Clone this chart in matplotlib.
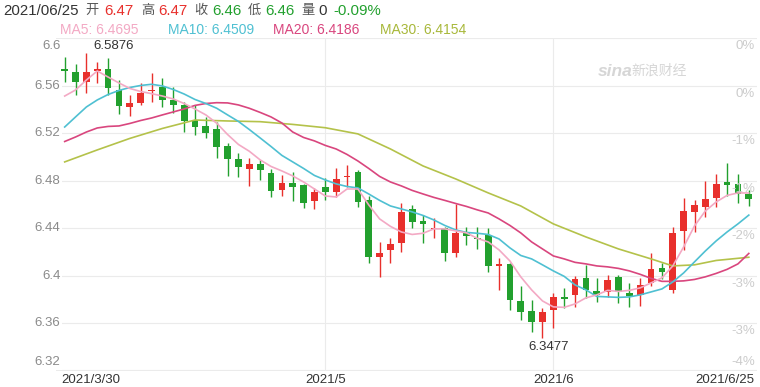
import matplotlib
matplotlib.use('Agg')
import matplotlib.pyplot as plt
import matplotlib.transforms as mtransforms

plt.rcParams['font.family'] = ['Liberation Sans', 'Noto Sans CJK SC', 'DejaVu Sans']

# daily candles 2021/3/30 .. 2021/6/25
opens = [6.5740, 6.5717, 6.5633, 6.5720, 6.5737, 6.5563, 6.5422, 6.5451, 6.5560, 6.5591,
         6.5479, 6.5437, 6.5310, 6.5260, 6.5232, 6.5091, 6.4980, 6.4898, 6.4937, 6.4862,
         6.4721, 6.4782, 6.4763, 6.4631, 6.4744, 6.4707, 6.4835, 6.4875, 6.4637, 6.4154,
         6.4216, 6.4272, 6.4558, 6.4462, 6.4395, 6.4399, 6.4188, 6.4370, 6.4318, 6.4342,
         6.4090, 6.4098, 6.3789, 6.3705, 6.3612, 6.3711, 6.3818, 6.3837, 6.3983, 6.3873,
         6.3865, 6.3991, 6.3856, 6.3837, 6.3935, 6.4062, 6.3879, 6.4378, 6.4538, 6.4575,
         6.4651, 6.4788, 6.4769, 6.4685]
highs = [6.5840, 6.5782, 6.5876, 6.5800, 6.5830, 6.5647, 6.5521, 6.5624, 6.5704, 6.5662,
         6.5591, 6.5465, 6.5437, 6.5338, 6.5296, 6.5114, 6.5030, 6.4988, 6.4974, 6.4895,
         6.4847, 6.4875, 6.4772, 6.4735, 6.4820, 6.4904, 6.4932, 6.4885, 6.4670, 6.4286,
         6.4314, 6.4609, 6.4595, 6.4510, 6.4483, 6.4412, 6.4603, 6.4412, 6.4412, 6.4399,
         6.4146, 6.4105, 6.3913, 6.3795, 6.3725, 6.3851, 6.3893, 6.3997, 6.4089, 6.3978,
         6.4005, 6.4005, 6.3940, 6.3978, 6.4188, 6.4104, 6.4412, 6.4651, 6.4637, 6.4800,
         6.4856, 6.4946, 6.4856, 6.4719]
lows = [6.5630, 6.5521, 6.5535, 6.5624, 6.5520, 6.5361, 6.5344, 6.5437, 6.5465, 6.5422,
        6.5367, 6.5212, 6.5184, 6.5156, 6.4988, 6.4839, 6.4833, 6.4755, 6.4805, 6.4660,
        6.4670, 6.4631, 6.4567, 6.4561, 6.4637, 6.4660, 6.4749, 6.4580, 6.4109, 6.3986,
        6.4104, 6.4201, 6.4399, 6.4272, 6.4314, 6.4126, 6.4159, 6.4258, 6.4222, 6.4033,
        6.3879, 6.3711, 6.3626, 6.3528, 6.3477, 6.3557, 6.3725, 6.3733, 6.3809, 6.3781,
        6.3823, 6.3767, 6.3738, 6.3744, 6.3913, 6.3969, 6.3851, 6.4216, 6.4370, 6.4496,
        6.4580, 6.4670, 6.4614, 6.4586]
closes = [6.5720, 6.5633, 6.5717, 6.5740, 6.5582, 6.5431, 6.5456, 6.5535, 6.5570, 6.5479,
          6.5437, 6.5302, 6.5254, 6.5203, 6.5080, 6.4982, 6.4912, 6.4937, 6.4889, 6.4713,
          6.4777, 6.4749, 6.4614, 6.4707, 6.4707, 6.4814, 6.4843, 6.4622, 6.4154, 6.4193,
          6.4264, 6.4538, 6.4454, 6.4435, 6.4403, 6.4193, 6.4356, 6.4334, 6.4310, 6.4081,
          6.4098, 6.3795, 6.3696, 6.3612, 6.3696, 6.3818, 6.3812, 6.3969, 6.3879, 6.3837,
          6.3963, 6.3865, 6.3829, 6.3921, 6.4053, 6.4033, 6.4361, 6.4547, 6.4595, 6.4643,
          6.4772, 6.4765, 6.4685, 6.4643]

ma5 = [6.5512, 6.5563, 6.5647, 6.5723, 6.5672, 6.5622, 6.5576, 6.5550, 6.5532, 6.5512,
       6.5487, 6.5449, 6.5403, 6.5353, 6.5283, 6.5188, 6.5104, 6.5047, 6.4974, 6.4919,
       6.4881, 6.4839, 6.4788, 6.4729, 6.4670, 6.4662, 6.4729, 6.4729, 6.4595, 6.4477,
       6.4414, 6.4367, 6.4346, 6.4356, 6.4393, 6.4393, 6.4376, 6.4359, 6.4313, 6.4283,
       6.4216, 6.4123, 6.3989, 6.3879, 6.3786, 6.3736, 6.3732, 6.3761, 6.3812, 6.3837,
       6.3875, 6.3866, 6.3875, 6.3896, 6.3938, 6.3980, 6.4081, 6.4241, 6.4418, 6.4544,
       6.4620, 6.4675, 6.4696, 6.4695]
ma10 = [6.5251, 6.5336, 6.5420, 6.5479, 6.5525, 6.5559, 6.5584, 6.5601, 6.5611, 6.5597,
        6.5567, 6.5529, 6.5483, 6.5449, 6.5409, 6.5353, 6.5298, 6.5230, 6.5159, 6.5087,
        6.5012, 6.4957, 6.4902, 6.4843, 6.4805, 6.4772, 6.4750, 6.4738, 6.4687, 6.4633,
        6.4586, 6.4561, 6.4536, 6.4506, 6.4468, 6.4422, 6.4384, 6.4363, 6.4356, 6.4346,
        6.4308, 6.4233, 6.4169, 6.4140, 6.4090, 6.4039, 6.3993, 6.3921, 6.3879, 6.3824,
        6.3820, 6.3816, 6.3820, 6.3837, 6.3862, 6.3887, 6.3946, 6.4022, 6.4115, 6.4207,
        6.4292, 6.4367, 6.4435, 6.4509]
ma20 = [6.5129, 6.5167, 6.5209, 6.5243, 6.5256, 6.5260, 6.5281, 6.5306, 6.5327, 6.5353,
        6.5378, 6.5403, 6.5433, 6.5449, 6.5456, 6.5454, 6.5437, 6.5409, 6.5374, 6.5336,
        6.5285, 6.5209, 6.5163, 6.5134, 6.5096, 6.5066, 6.5020, 6.4965, 6.4902, 6.4835,
        6.4788, 6.4755, 6.4717, 6.4687, 6.4658, 6.4633, 6.4607, 6.4582, 6.4553, 6.4527,
        6.4477, 6.4422, 6.4359, 6.4283, 6.4224, 6.4165, 6.4140, 6.4111, 6.4098, 6.4081,
        6.4073, 6.4060, 6.4039, 6.4010, 6.3976, 6.3951, 6.3951, 6.3955, 6.3967, 6.3989,
        6.4018, 6.4052, 6.4098, 6.4186]
ma30_idx = [0, 3, 6, 9, 12, 15, 18, 21, 24, 27, 30, 33, 36, 39, 42, 45, 48, 51, 54, 56, 58, 60, 63]
ma30 = [6.4957, 6.5058, 6.5155, 6.5239, 6.5310, 6.5302, 6.5296, 6.5273, 6.5245, 6.5193,
        6.5066, 6.4923, 6.4814, 6.4696, 6.4586, 6.4435, 6.4325, 6.4224, 6.4140, 6.4081,
        6.4090, 6.4127, 6.4154]

y_ticks = [6.32, 6.36, 6.4, 6.44, 6.48, 6.52, 6.56, 6.6]
y_labels = ['6.32', '6.36', '6.4', '6.44', '6.48', '6.52', '6.56', '6.6']
pct_labels = ['-4%', '-3%', '-3%', '-2%', '-1%', '-1%', '0%', '0%']
date_idx = [0, 24, 45, 63]
date_labels = ['2021/3/30', '2021/5', '2021/6', '2021/6/25']

head_date = '2021/06/25'
head_open, head_high, head_close, head_low = 6.47, 6.47, 6.46, 6.46
head_vol = 0
head_chg = -0.09

RED = '#e8302c'
GREEN = '#22a02e'
C_MA5, C_MA10, C_MA20, C_MA30 = '#f3a9c4', '#4fc0d2', '#d9467e', '#b4c24a'

W, H = 760, 387
fig = plt.figure(figsize=(W / 100, H / 100), dpi=100)
ax = fig.add_axes([56 / W, (H - 370.5) / H, 701 / W, 332.4 / H])
ax.set_xlim(-0.80, 63.755)
ax.set_ylim(6.32, 6.6)
for s in ax.spines.values():
    s.set_visible(False)
ax.set_xticks([])
ax.set_yticks([])

for t in y_ticks:
    ax.axhline(t, color='#ebebeb', lw=0.8, zorder=0)
for i in date_idx[1:3]:
    ax.axvline(i, color='#ebebeb', lw=0.8, zorder=0)

n = len(opens)
for i in range(n):
    o, h, l, c = opens[i], highs[i], lows[i], closes[i]
    col = RED if c >= o else GREEN
    ax.vlines(i, l, h, color=col, lw=1.0, zorder=2)
    ax.bar(i, max(abs(c - o), 0.0013), bottom=min(o, c) - (0.00065 if abs(c - o) < 0.0013 else 0),
           width=0.62, color=col, zorder=3)

xs = list(range(n))
ax.plot(ma30_idx, ma30, color=C_MA30, lw=1.2, zorder=4)
ax.plot(xs, ma20, color=C_MA20, lw=1.2, zorder=4)
ax.plot(xs, ma10, color=C_MA10, lw=1.2, zorder=4)
ax.plot(xs, ma5, color=C_MA5, lw=1.2, zorder=4)

# left price labels, right edge at about x=60px
lab_x = 4.5 / 701
for t, lab in zip(y_ticks, y_labels):
    va = 'center'
    off = 0
    if t == y_ticks[-1]:
        va, off = 'top', -2
    elif t == y_ticks[0]:
        va, off = 'bottom', 2
    tr = mtransforms.offset_copy(ax.transData, fig=fig, y=off, units='dots')
    ax.text(lab_x, t, lab, transform=mtransforms.blended_transform_factory(ax.transAxes, tr),
            ha='right', va=va, fontsize=9.5, color='#8a8a8a', clip_on=False, zorder=5,
            bbox=dict(facecolor='white', edgecolor='none', pad=1.0))

# right percent labels
for t, lab in zip(y_ticks, pct_labels):
    if t == y_ticks[0]:
        va, off = 'bottom', 2
    else:
        va, off = 'top', -2
    tr = mtransforms.offset_copy(ax.transData, fig=fig, y=off, units='dots')
    ax.text(0.997, t, lab, transform=mtransforms.blended_transform_factory(ax.transAxes, tr),
            ha='right', va=va, fontsize=9.5, color='#cccccc')

# date labels
for i, lab in zip(date_idx, date_labels):
    ha = 'center'
    if i == date_idx[0]:
        ha = 'left'
        i = i - 0.3
    elif i == date_idx[-1]:
        ha = 'right'
        i = i + 0.55
    ax.text(i, 6.32, lab, ha=ha, va='top', fontsize=9.5, color='#333333',
            transform=mtransforms.offset_copy(ax.transData, fig=fig, y=-4, units='dots'))

# max / min annotations
imax = highs.index(max(highs))
imin = lows.index(min(lows))
ax.annotate('%.4f' % highs[imax], (imax, highs[imax]), xytext=(7, 1), textcoords='offset pixels',
            ha='left', va='bottom', fontsize=9.5, color='#333333', annotation_clip=False)
ax.annotate('%.4f' % lows[imin], (imin, lows[imin]), xytext=(6, -3), textcoords='offset pixels',
            ha='center', va='top', fontsize=9.5, color='#333333', annotation_clip=False)

# watermark
fig.text(598 / W, 1 - 71 / H, 'sina', fontsize=12.5, style='italic', weight='bold', color='#d6d6d6', va='center')
fig.text(631 / W, 1 - 71 / H, '新浪财经', fontsize=10, color='#d6d6d6', va='center',
         family=['Noto Sans CJK SC'])


def hdr(x, s, col, y=11, size=10.8):
    fig.text(x / W, 1 - y / H, s, color=col, fontsize=size, va='center', ha='left')


# header line 1
cn = '#555555'
hdr(3, head_date, '#333333')
hdr(85, '开', cn, size=9.5)
hdr(104, '%.2f' % head_open, RED)
hdr(141, '高', cn, size=9.5)
hdr(158, '%.2f' % head_high, RED)
hdr(194, '收', cn, size=9.5)
hdr(212, '%.2f' % head_close, GREEN)
hdr(248, '低', cn, size=9.5)
hdr(265, '%.2f' % head_low, GREEN)
hdr(301, '量', cn, size=9.5)
hdr(318, str(head_vol), '#333333')
hdr(333, '%.2f%%' % head_chg, GREEN)

# header line 2
hdr(60, 'MA5: %.4f' % ma5[-1], C_MA5, y=30, size=10)
hdr(168, 'MA10: %.4f' % ma10[-1], C_MA10, y=30, size=10)
hdr(273, 'MA20: %.4f' % ma20[-1], C_MA20, y=30, size=10)
hdr(380, 'MA30: %.4f' % ma30[-1], '#a8b83a', y=30, size=10)

fig.savefig('out.png', dpi=100)
